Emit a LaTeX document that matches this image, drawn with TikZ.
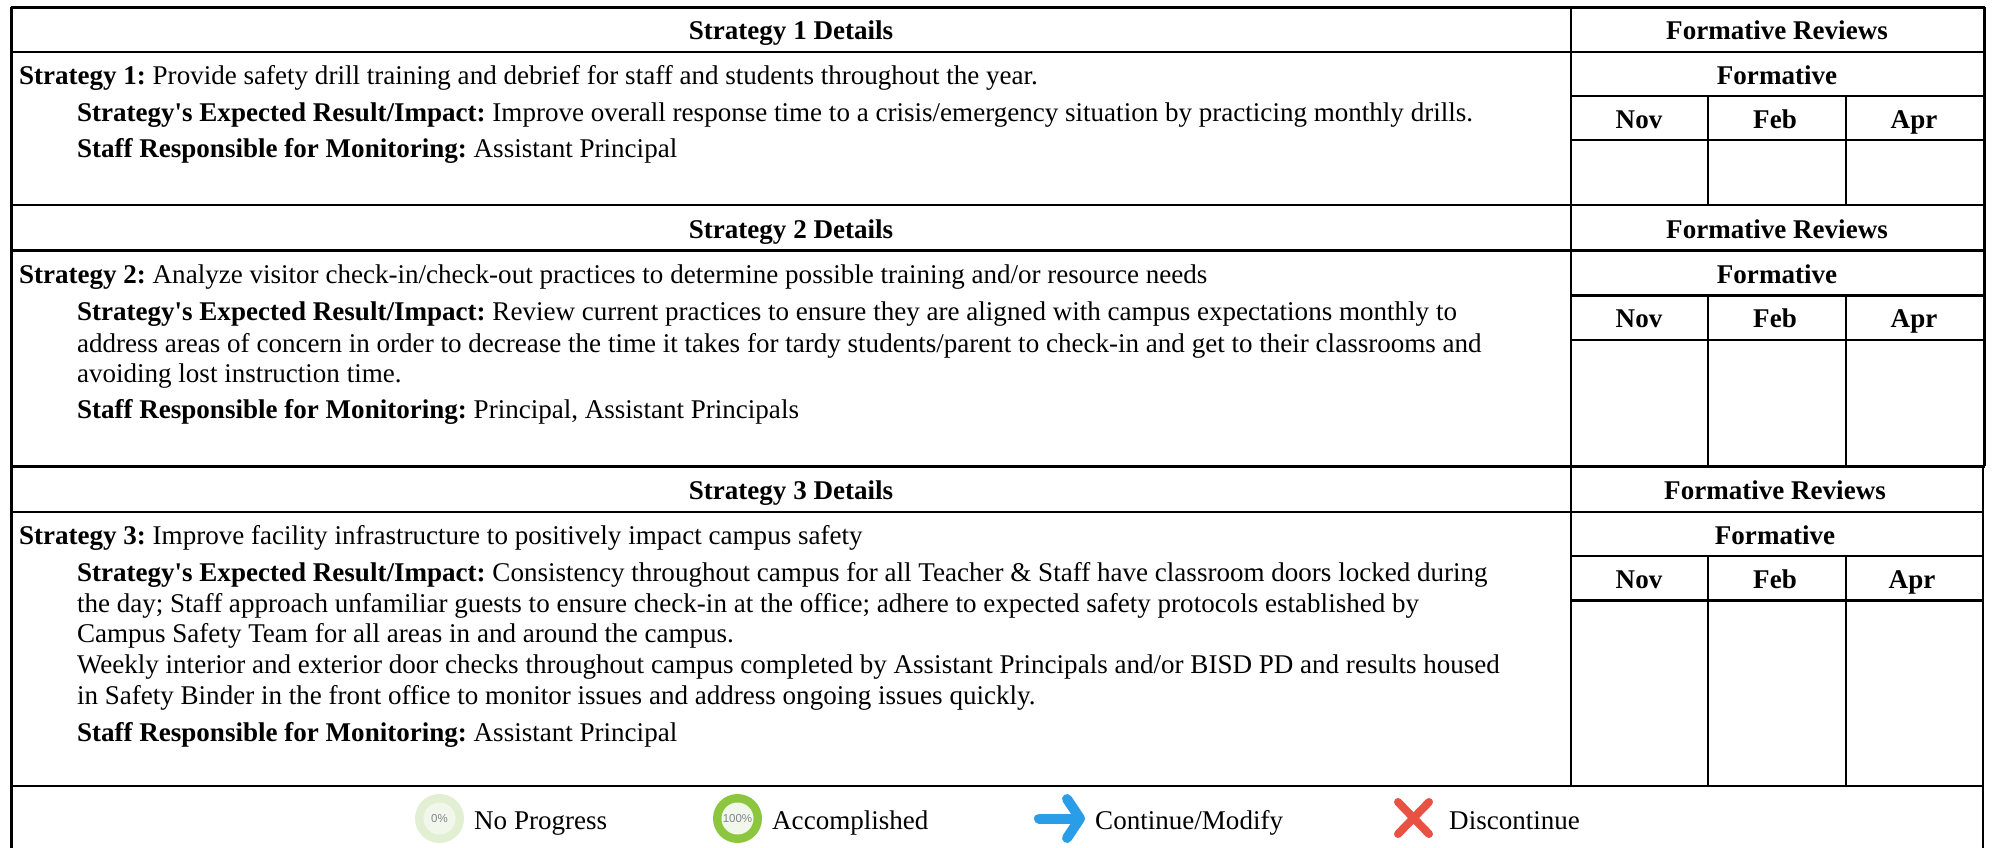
\documentclass[tikz,border=0pt]{standalone}
\usepackage{fontspec}
\setmainfont{Liberation Serif}
\newfontfamily\pctfont{Liberation Sans}
\newcommand{\tsz}{\fontsize{27.05}{32}\selectfont\frenchspacing}
\newcommand{\sm}{\fontsize{11.5}{12}\pctfont\selectfont}
\definecolor{ringpale}{HTML}{E2EFD2}
\definecolor{ringfill}{HTML}{F2F7EC}
\definecolor{ringgreen}{HTML}{8CC63F}
\definecolor{arrowblue}{HTML}{2A9DE8}
\definecolor{crossred}{HTML}{E95242}
\definecolor{pctgray}{HTML}{7F868E}
\tikzset{x=1pt,y=-1pt,
  gridline/.style={draw=black,line width=2.1pt,line cap=butt},
  heavyline/.style={draw=black,line width=2.8pt},
  celltext/.style={font=\tsz,anchor=base west,inner sep=0pt,outer sep=0pt},
  midtext/.style={font=\tsz\bfseries,anchor=base,inner sep=0pt},
  legendtext/.style={font=\tsz,anchor=base west,inner sep=0pt},
  pct/.style={font=\sm,text=pctgray,inner sep=0pt}}
\begin{document}
\begin{tikzpicture}
\useasboundingbox (0,0) rectangle (1993,848);
\fill[white] (0,0) rectangle (1993,848);
% frame
\draw[gridline] (10.5,7.5) -- (1985,7.5);
\draw[gridline] (11.5,7) -- (11.5,848);
\draw[gridline] (1984.5,7) -- (1984.5,466);
\draw[gridline] (1983,467) -- (1983,848);
% column rule
\draw[gridline] (1571,7) -- (1571,786);
% block 1
\draw[gridline] (11,52) -- (1984,52);
\draw[gridline] (1571,96) -- (1984,96);
\draw[gridline] (1571,140) -- (1984,140);
\draw[gridline] (1708,96) -- (1708,204);
\draw[gridline] (1846,96) -- (1846,204);
\draw[heavyline] (11,205) -- (1985,205);
% block 2
\draw[gridline] (11,250.5) -- (1984,250.5);
\draw[gridline] (1571,295.5) -- (1984,295.5);
\draw[gridline] (1571,340) -- (1984,340);
\draw[gridline] (1708,295) -- (1708,465);
\draw[gridline] (1846,295) -- (1846,465);
\draw[heavyline] (11,466.5) -- (1985,466.5);
% block 3
\draw[gridline] (11,512) -- (1983,512);
\draw[gridline] (1571,556) -- (1983,556);
\draw[gridline] (1571,600.5) -- (1983,600.5);
\draw[gridline] (1708,556) -- (1708,785);
\draw[gridline] (1846,556) -- (1846,785);
\draw[heavyline] (11,786) -- (1984,786);
% headers
\node[midtext] (h1) at (791,39.5) {Strategy 1 Details};
\node[midtext] (r1) at (1777,39.5) {Formative Reviews};
\node[midtext] (f1) at (1777,84.5) {Formative};
\node[midtext] (n1) at (1639,128.5) {Nov};
\node[midtext] (e1) at (1775,128.5) {Feb};
\node[midtext] (a1) at (1914,128.5) {Apr};
\node[midtext] (h2) at (791,238.5) {Strategy 2 Details};
\node[midtext] (r2) at (1777,238.5) {Formative Reviews};
\node[midtext] (f2) at (1777,283.5) {Formative};
\node[midtext] (n2) at (1639,327.5) {Nov};
\node[midtext] (e2) at (1775,327.5) {Feb};
\node[midtext] (a2) at (1914,327.5) {Apr};
\node[midtext] (h3) at (791,499.5) {Strategy 3 Details};
\node[midtext] (r3) at (1775,499.5) {Formative Reviews};
\node[midtext] (f3) at (1775,544.5) {Formative};
\node[midtext] (n3) at (1639,588.5) {Nov};
\node[midtext] (e3) at (1775,588.5) {Feb};
\node[midtext] (a3) at (1912,588.5) {Apr};
% block 1 text
\node[celltext] (s1) at (19,84.5) {\textbf{Strategy 1:} Provide safety drill training and debrief for staff and students throughout the year.};
\node[celltext] (s1a) at (77,121.5) {\textbf{Strategy\textquotesingle s Expected Result/Impact:} Improve overall response time to a crisis/emergency situation by practicing monthly drills.};
\node[celltext] (s1b) at (77,157.5) {\textbf{Staff Responsible for Monitoring:} Assistant Principal};
% block 2 text
\node[celltext] (s2) at (19,283.5) {\textbf{Strategy 2:} Analyze visitor check-in/check-out practices to determine possible training and/or resource needs};
\node[celltext] (s2a) at (77,320) {\textbf{Strategy\textquotesingle s Expected Result/Impact:} Review current practices to ensure they are aligned with campus expectations monthly to};
\node[celltext] (s2b) at (77,352) {address areas of concern in order to decrease the time it takes for tardy students/parent to check-in and get to their classrooms and};
\node[celltext] (s2c) at (77,382) {avoiding lost instruction time.};
\node[celltext] (s2d) at (77,418) {\textbf{Staff Responsible for Monitoring:} Principal, Assistant Principals};
% block 3 text
\node[celltext] (s3) at (19,544.5) {\textbf{Strategy 3:} Improve facility infrastructure to positively impact campus safety};
\node[celltext] (s3a) at (77,581) {\textbf{Strategy\textquotesingle s Expected Result/Impact:} Consistency throughout campus for all Teacher \& Staff have classroom doors locked during};
\node[celltext] (s3b) at (77,612.5) {the day; Staff approach unfamiliar guests to ensure check-in at the office; adhere to expected safety protocols established by};
\node[celltext] (s3c) at (77,642.5) {Campus Safety Team for all areas in and around the campus.};
\node[celltext] (s3d) at (77,673.5) {Weekly interior and exterior door checks throughout campus completed by Assistant Principals and/or BISD PD and results housed};
\node[celltext] (s3e) at (77,704.5) {in Safety Binder in the front office to monitor issues and address ongoing issues quickly.};
\node[celltext] (s3f) at (77,741) {\textbf{Staff Responsible for Monitoring:} Assistant Principal};
% legend
\fill[ringpale] (439.5,818.5) circle (24.5);
\fill[ringfill] (439.5,818.5) circle (16);
\node[pct] (p0) at (439.5,818.5) {0\%};
\node[legendtext] (l0) at (474,829.5) {No Progress};
\fill[ringgreen] (737.5,818.5) circle (24.5);
\fill[ringfill] (737.5,818.5) circle (16);
\node[pct] (p1) at (737.5,818.5) {100\%};
\node[legendtext] (l1) at (772,829.5) {Accomplished};
\draw[arrowblue,line width=10pt,line cap=round] (1039,818.5) -- (1076,818.5);
\draw[arrowblue,line width=10pt,line cap=round,line join=round] (1067,799) -- (1080,818.5) -- (1067,838);
\node[legendtext] (l2) at (1095,829.5) {Continue/Modify};
\draw[crossred,line width=8pt,line cap=round] (1398,802) -- (1429,834)  (1398,834) -- (1429,802);
\node[legendtext] (l3) at (1449,829.5) {Discontinue};
\end{tikzpicture}
\end{document}
